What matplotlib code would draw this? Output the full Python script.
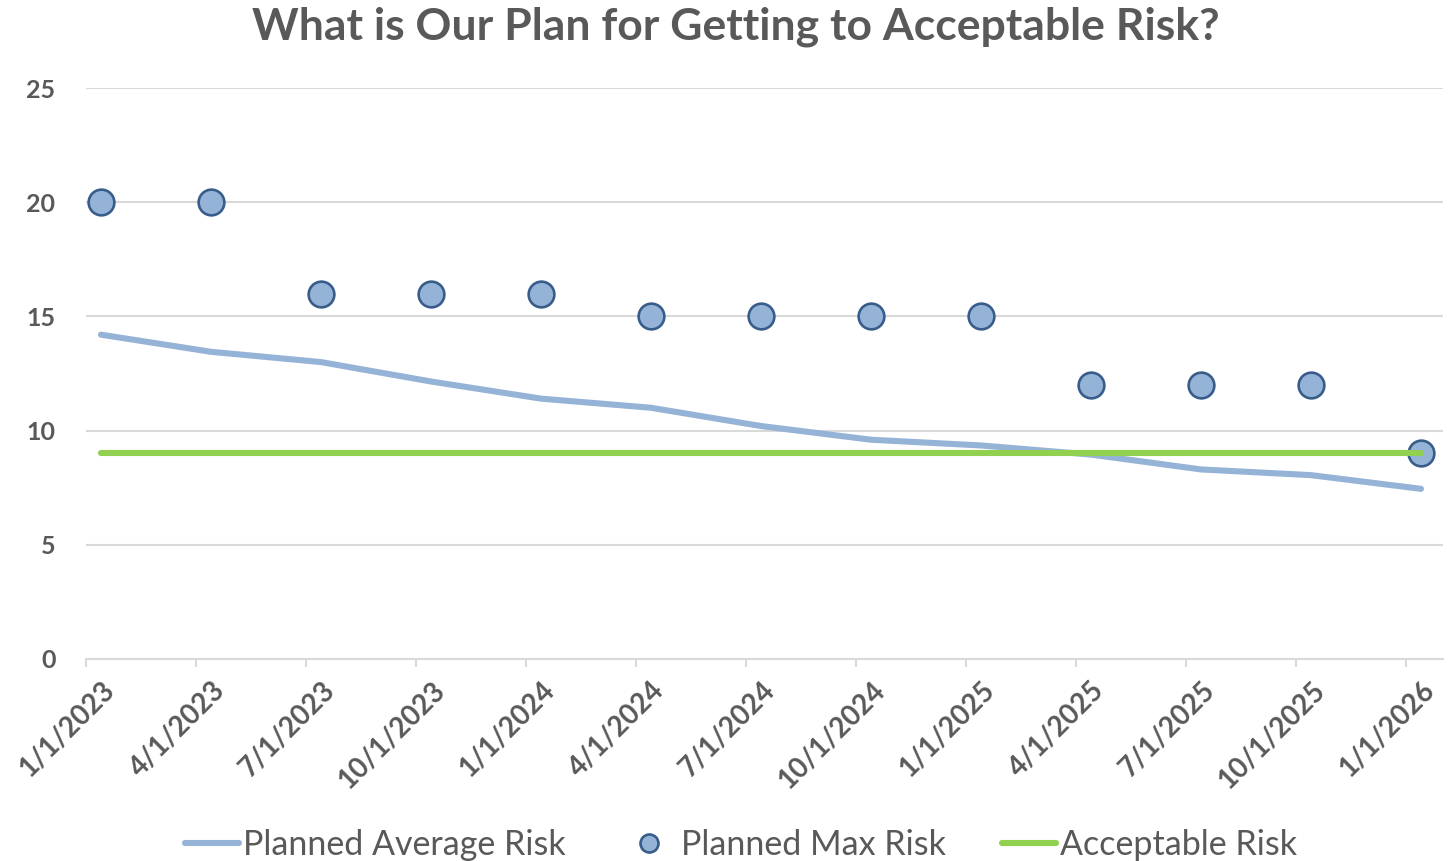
import matplotlib
matplotlib.use("Agg")
import matplotlib.pyplot as plt
import numpy as np

categories = ["1/1/2023", "4/1/2023", "7/1/2023", "10/1/2023", "1/1/2024", "4/1/2024",
              "7/1/2024", "10/1/2024", "1/1/2025", "4/1/2025", "7/1/2025", "10/1/2025", "1/1/2026"]
avg_risk = [14.2, 13.45, 13.0, 12.15, 11.4, 11.0, 10.2, 9.6, 9.35, 8.95, 8.3, 8.05, 7.45]
max_risk = [20, 20, 16, 16, 16, 15, 15, 15, 15, 12, 12, 12, 9]
acceptable = [9] * 13

GRAY = "#595959"
plt.rcParams['font.family'] = ['Lato', 'DejaVu Sans']

fig = plt.figure(figsize=(14.53, 8.61), dpi=100)
ax = fig.add_axes([86/1453, 1-659/861, (1443-86)/1453, (659-88)/861])

off = 0.136
x = np.arange(len(categories)) + off

ax.plot(x, avg_risk, color="#95b3d7", lw=4.4, solid_capstyle='round', zorder=3,
        label="Planned Average Risk")
ax.plot(x, max_risk, linestyle='none', marker='o', ms=18.5, mfc="#95b3d7", mec="#385d8a",
        mew=1.9, zorder=4, label="Planned Max Risk")
ax.plot(x, acceptable, color="#92d050", lw=4.4, solid_capstyle='round', zorder=5,
        label="Acceptable Risk")

ax.set_xlim(0, 12.336)
ax.set_ylim(0, 25)
ax.set_yticks([0, 5, 10, 15, 20, 25])
ax.yaxis.grid(True, color="#d9d9d9", lw=1.5)
ax.set_axisbelow(True)
for s in ["top", "right", "left"]:
    ax.spines[s].set_visible(False)
ax.spines["bottom"].set_color("#d9d9d9")
ax.spines["bottom"].set_linewidth(1.5)

ax.tick_params(axis='y', length=0, pad=22, labelsize=18, labelcolor=GRAY)
for t in ax.get_yticklabels():
    t.set_fontweight('bold')

ax.set_xticks(x)
ax.set_xticklabels(categories, rotation=45, ha='right', va='top', rotation_mode='anchor',
                   fontsize=20, fontweight='bold', color=GRAY)
ax.tick_params(axis='x', which='major', length=0, pad=13)
ax.set_xticks(np.arange(len(categories)), minor=True)
ax.tick_params(axis='x', which='minor', length=6, width=1.5, color="#d9d9d9")

fig.text(736/1453, 1-27/861, "What is Our Plan for Getting to Acceptable Risk?",
         ha='center', va='center', fontsize=32, fontweight='bold', color=GRAY)

leg = fig.legend(loc='center', bbox_to_anchor=(741/1453, 1-845/861), ncol=3, frameon=False,
                 fontsize=24.5, handlelength=1.6, handletextpad=0.12, columnspacing=1.65,
                 markerscale=0.7)
for t in leg.get_texts():
    t.set_color(GRAY)

fig.savefig("out.png", dpi=100)
